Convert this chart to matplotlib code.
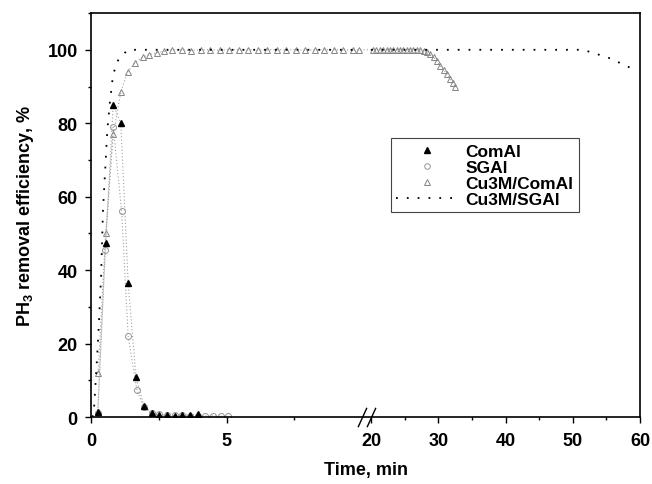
import numpy as np
import matplotlib
matplotlib.use("Agg")
import matplotlib.pyplot as plt
from matplotlib.lines import Line2D

plt.rcParams["font.family"] = ["Liberation Sans", "DejaVu Sans"]
plt.rcParams["mathtext.default"] = "regular"

# ComAl (filled triangles)
comal_t = [0.25, 0.54, 0.82, 1.10, 1.37, 1.66, 1.95, 2.24, 2.52, 2.80, 3.08, 3.37, 3.65, 3.93]
comal_y = [1.5, 47.5, 85.0, 80.0, 36.5, 10.8, 3.0, 1.0, 0.6, 0.5, 0.4, 0.5, 0.6, 0.8]

# SGAl (open circles)
sgal_t = [0.25, 0.52, 0.82, 1.13, 1.37, 1.69, 1.96, 2.24, 2.52, 2.80, 3.08, 3.37,
          3.65, 3.93, 4.21, 4.50, 4.78, 5.06]
sgal_y = [1.0, 45.5, 79.0, 56.0, 22.0, 7.4, 2.7, 1.0, 0.8, 0.6, 0.5, 0.5,
          0.4, 0.4, 0.3, 0.3, 0.2, 0.2]

# Cu3M/ComAl (open triangles)
cucom_t = [0.26, 0.54, 0.82, 1.10, 1.35, 1.62, 1.90, 2.15, 2.42, 2.70, 3.00, 3.35,
           3.70, 4.05, 4.40, 4.75, 5.10, 5.45, 5.80, 6.15, 6.50, 6.85, 7.20, 7.55,
           7.90, 8.25, 8.60, 8.95, 9.30, 9.65, 9.90,
           20.3, 20.8, 21.3, 21.8, 22.3, 22.8, 23.3, 23.8, 24.3, 24.8, 25.3, 25.8,
           26.3, 26.8, 27.3, 27.8, 28.3, 28.8, 29.3, 29.8, 30.3, 30.8, 31.3, 31.8,
           32.2, 32.5]
cucom_y = [12.0, 50.0, 77.0, 88.5, 94.0, 96.5, 98.0, 98.7, 99.2, 99.6, 100.0, 100.0,
           99.8, 100.0, 100.0, 99.9, 100.0, 100.0, 100.0, 99.9, 100.0, 100.0, 100.0, 100.0,
           99.9, 100.0, 100.0, 100.0, 100.0, 99.9, 100.0,
           100.0, 100.0, 100.0, 100.0, 100.0, 100.0, 100.0, 100.0, 100.0, 100.0, 100.0, 100.0,
           100.0, 100.0, 100.0, 99.8, 99.5, 98.8, 98.0, 97.0, 95.6, 94.5, 93.3, 92.0,
           91.0, 90.0]

# Cu3M/SGAl (dotted line)
cusg_t = [0.05, 0.10, 0.15, 0.26, 0.37, 0.44, 0.52, 0.60, 0.70, 0.81, 0.95, 1.07, 1.37,
          3.0, 6.0, 9.9, np.nan,
          20.0, 30.0, 40.0, 50.0, 51.5, 53.5, 55.5, 57.5, 59.5]
cusg_y = [0.0, 1.0, 7.0, 21.0, 38.0, 56.0, 67.0, 78.0, 86.0, 93.0, 96.5, 98.0, 100.0,
          100.0, 100.0, 100.0, np.nan,
          100.0, 100.0, 100.0, 100.0, 100.0, 98.9, 97.7, 96.0, 94.3]

x_major = [0, 5, 20, 30, 40, 50, 60]
x_minor = [2.5, 7.5, 25, 35, 45, 55]
break_t = [10, 20]


def fwd(t):
    t = np.asarray(t, dtype=float)
    return np.where(t <= 10, t,
                    np.where(t < 20, 10 + (t - 10) * 0.033,
                             10.33 + (t - 20) * 0.248))


def inv(u):
    u = np.asarray(u, dtype=float)
    return np.where(u <= 10, u,
                    np.where(u < 10.33, 10 + (u - 10) / 0.033,
                             20 + (u - 10.33) / 0.248))


fig = plt.figure(figsize=(6.52, 4.85), dpi=100)
ax = fig.add_axes([0.1396, 0.138, 0.8420, 0.833])
ax.set_xscale("function", functions=(fwd, inv))

link = dict(color="#a0a0a0", linestyle=(0, (1, 2)), linewidth=0.8)
ax.plot(cucom_t, cucom_y, marker="^", markersize=4.8, markerfacecolor="none",
        markeredgecolor="#858585", markeredgewidth=0.7, **link)
ax.plot(sgal_t, sgal_y, marker="o", markersize=4.3, markerfacecolor="none",
        markeredgecolor="#959595", markeredgewidth=0.7, **link)
ax.plot(comal_t, comal_y, marker="^", markersize=5, color="#a0a0a0",
        markerfacecolor="black", markeredgecolor="black",
        linestyle=(0, (1, 2)), linewidth=0.8)
ax.plot(cusg_t, cusg_y, color="black", linestyle=(0, (1, 5)), linewidth=1.3)

ax.set_xlim(0, 60)
ax.set_ylim(0, 110)
ax.set_xticks(x_major)
ax.set_xticks(x_minor, minor=True)
ax.set_xticklabels([str(v) for v in x_major])
ax.set_yticks([0, 20, 40, 60, 80, 100])
ax.set_yticks([10, 30, 50, 70, 90, 110], minor=True)

for lab in ax.get_xticklabels() + ax.get_yticklabels():
    lab.set_fontweight("bold")
    lab.set_fontsize(13)
ax.tick_params(which="major", direction="out", length=4.5, width=1.0)
ax.tick_params(axis="x", which="major", pad=6)
ax.tick_params(axis="y", which="major", pad=5)
ax.tick_params(which="minor", direction="out", length=2.5, width=1.0)
for s in ax.spines.values():
    s.set_linewidth(1.2)

ax.set_xlabel("Time, min", fontsize=13, fontweight="bold", labelpad=9)
ax.set_ylabel(r"PH$_3$ removal efficiency, %", fontsize=13, fontweight="bold",
              labelpad=8)

# axis break marks
ax.plot(break_t, [0, 0], linestyle="none", marker=[(-1, -2.2), (1, 2.2)],
        markersize=14, markeredgewidth=1.0, color="black",
        transform=ax.get_xaxis_transform(), clip_on=False)

handles = [
    Line2D([], [], linestyle="none", marker="^", markersize=4.5,
           color="black"),
    Line2D([], [], linestyle="none", marker="o", markersize=4, markerfacecolor="none",
           markeredgecolor="#959595", markeredgewidth=0.7),
    Line2D([], [], linestyle="none", marker="^", markersize=4.5, markerfacecolor="none",
           markeredgecolor="#858585", markeredgewidth=0.7),
    Line2D([], [], color="black", linestyle=(0, (1, 5)), linewidth=1.3),
]
labels = ["ComAl", "SGAl", "Cu3M/ComAl", "Cu3M/SGAl"]
leg = ax.legend(handles, labels, loc="upper left", bbox_to_anchor=(0.546, 0.69),
                borderaxespad=0, frameon=True, fancybox=False, framealpha=1,
                edgecolor="#444444", handlelength=3.6, handletextpad=0.4,
                borderpad=0.3, labelspacing=0.05,
                prop={"weight": "bold", "size": 12.5})
leg.get_frame().set_linewidth(0.8)

fig.savefig("out.png", dpi=100)
